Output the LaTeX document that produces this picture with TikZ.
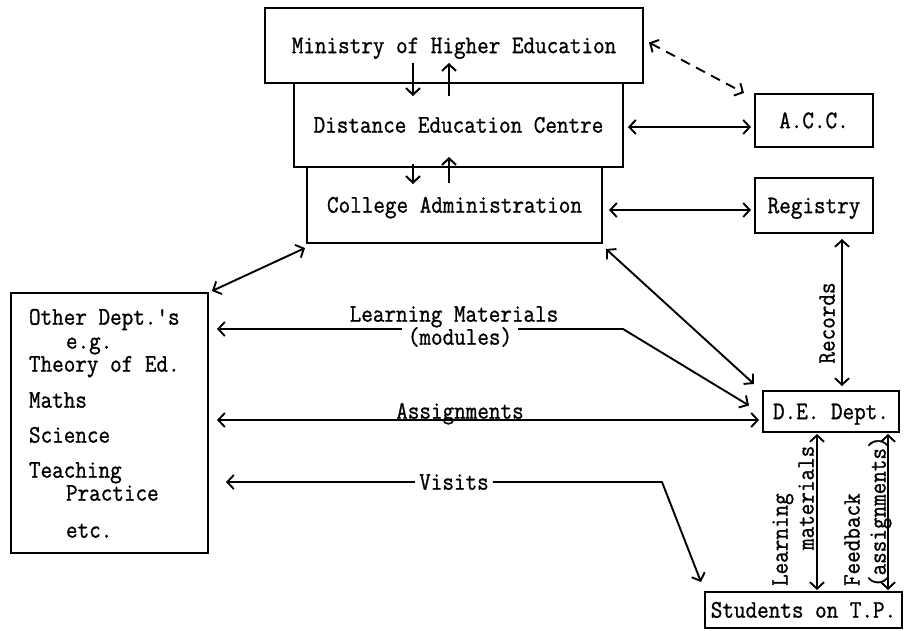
\documentclass[tikz,border=0pt]{standalone}
\usepackage{fontspec}
\usepackage{graphicx}
\usetikzlibrary{arrows.meta,calc}
\newfontfamily\twfam{Latin Modern Mono}[FakeBold=1.1]
\newcommand\twfont{\twfam\fontsize{22.5}{27}\selectfont}
% typewriter lettering, a little taller than wide
\newcommand\tw[1]{\scalebox{1}[1.12]{#1}}
\begin{document}
\begin{tikzpicture}[x=1pt,y=-1pt,line width=2pt,
  >={Straight Barb[length=6.5pt,width=14pt]},
  box/.style={draw,font=\twfont,text height=15.3pt,text depth=0pt,inner sep=0pt},
  lbl/.style={font=\twfont,text height=15.3pt,text depth=0pt,inner sep=0pt},
  link/.style={<->,line width=1.9pt},
  gap/.style={inner xsep=5pt}]
\useasboundingbox (0,0) rectangle (905,631);

% hierarchy of administration
\node[box,minimum width=378pt,minimum height=75pt] (min) at (454,45.5) {\tw{Ministry of Higher Education}};
\node[box,minimum width=329pt,minimum height=84pt] (dec) at (458.5,125) {\tw{Distance Education Centre}};
\node[box,minimum width=295pt,minimum height=76pt] (col) at (454.5,205) {\tw{College Administration}};

% side offices
\node[box,minimum width=118pt,minimum height=53pt] (acc) at (814,120.5) {\tw{A.C.C.}};
\node[box,minimum width=118pt,minimum height=55pt] (reg) at (814,205.5) {\tw{Registry}};
\node[box,minimum width=136pt,minimum height=41pt] (de) at (831,411.5) {\tw{D.E. Dept.}};
\node[box,minimum width=197pt,minimum height=36pt] (stu) at (803.5,610) {\tw{Students on T.P.}};

% other departments
\node[draw,minimum width=197pt,minimum height=260pt] (oth) at (109.5,423) {};
\node[lbl,anchor=west] (o1) at (28,317) {\tw{Other Dept.'s}};
\node[lbl,anchor=west] (o2) at (65,341) {\tw{e.g.}};
\node[lbl,anchor=west] (o3) at (28,364) {\tw{Theory of Ed.}};
\node[lbl,anchor=west] (o4) at (28,400) {\tw{Maths}};
\node[lbl,anchor=west] (o5) at (28,435) {\tw{Science}};
\node[lbl,anchor=west] (o6) at (28,470) {\tw{Teaching}};
\node[lbl,anchor=west] (o7) at (65,493) {\tw{Practice}};
\node[lbl,anchor=west] (o8) at (65,530) {\tw{etc.}};

% connector labels
\node[lbl] (lm1) at (454,314) {\tw{Learning Materials}};
\node[lbl,gap] (lm2) at (460,337) {\tw{(modules)}};
\node[lbl] (asg) at (460,411) {\tw{Assignments}};
\node[lbl,gap,inner xsep=3pt] (vis) at (454,482) {\tw{Visits}};
\node[lbl,rotate=90] (recl) at (827,323) {\tw{Records}};
\node[lbl,rotate=90,anchor=west] (lmv1) at (780,587) {\tw{Learning}};
\node[lbl,rotate=90,anchor=west] (lmv2) at (806,551) {\tw{materials}};
\node[lbl,rotate=90,anchor=west] (fb1) at (852,587) {\tw{Feedback}};
\node[lbl,rotate=90,anchor=west] (fb2) at (878,588) {\tw{(assignments)}};

% up and down links in the hierarchy
\draw[->] ($(min.south)+(-41,-21)$) -- ($(min.south)+(-41,12)$);
\draw[->] ($(min.south)+(-5,12)$) -- ($(min.south)+(-5,-21)$);
\draw[->] ($(dec.south)+(-45.5,-4)$) -- ($(dec.south)+(-45.5,16)$);
\draw[->] ($(dec.south)+(-9.5,15)$) -- ($(dec.south)+(-9.5,-11)$);

% links to the side offices
\draw[link,dash pattern=on 10pt off 7pt] ($(min.east)+(5,-3)$) -- ($(acc.north west)+(-10,0)$);
\draw[link] ($(dec.east)+(4,2)$) -- ($(dec.east -| acc.west)+(-3,2)$);
\draw[link] ($(col.east)+(6,5)$) -- ($(col.east -| reg.west)+(-3,5)$);
\draw[link] ($(reg.south)+(28,5)$) -- ($(de.north)+(11,-4)$);

% links from the college
\draw[link] ($(col.south west)+(-1,4)$) -- ($(oth.north east)+(3,-1)$);
\draw[link] ($(col.south east)+(3,5)$) -- ($(de.north west)+(-8,-6)$);

% links between the departments, broken where their labels sit
\coordinate (lmbend) at (623,329);
\draw[<-,line width=1.9pt] ($(de.west)+(-13,-6)$) -- (lmbend) -- (lmbend -| lm2.east);
\draw[->,line width=1.9pt] (lmbend -| lm2.west) -- (lmbend -| {$(oth.east)+(8,0)$});
\draw[link] ($(de.west)+(-3,8.5)$) -- ($(de.west -| oth.east)+(8,8.5)$);
\coordinate (vbend) at (662,482);
\draw[<-,line width=1.9pt] ($(stu.north west)+(-3,-9)$) -- (vbend) -- (vbend -| vis.east);
\draw[->,line width=1.9pt] (vbend -| vis.west) -- ($(vbend -| oth.east)+(17,0)$);

% links to the students
\draw[link] ($(de.south)+(-14,1)$) -- ($(de.south |- stu.north)+(-14,-1)$);
\draw[link] ($(de.south)+(57,1)$) -- ($(de.south |- stu.north)+(57,-1)$);
\end{tikzpicture}
\end{document}
